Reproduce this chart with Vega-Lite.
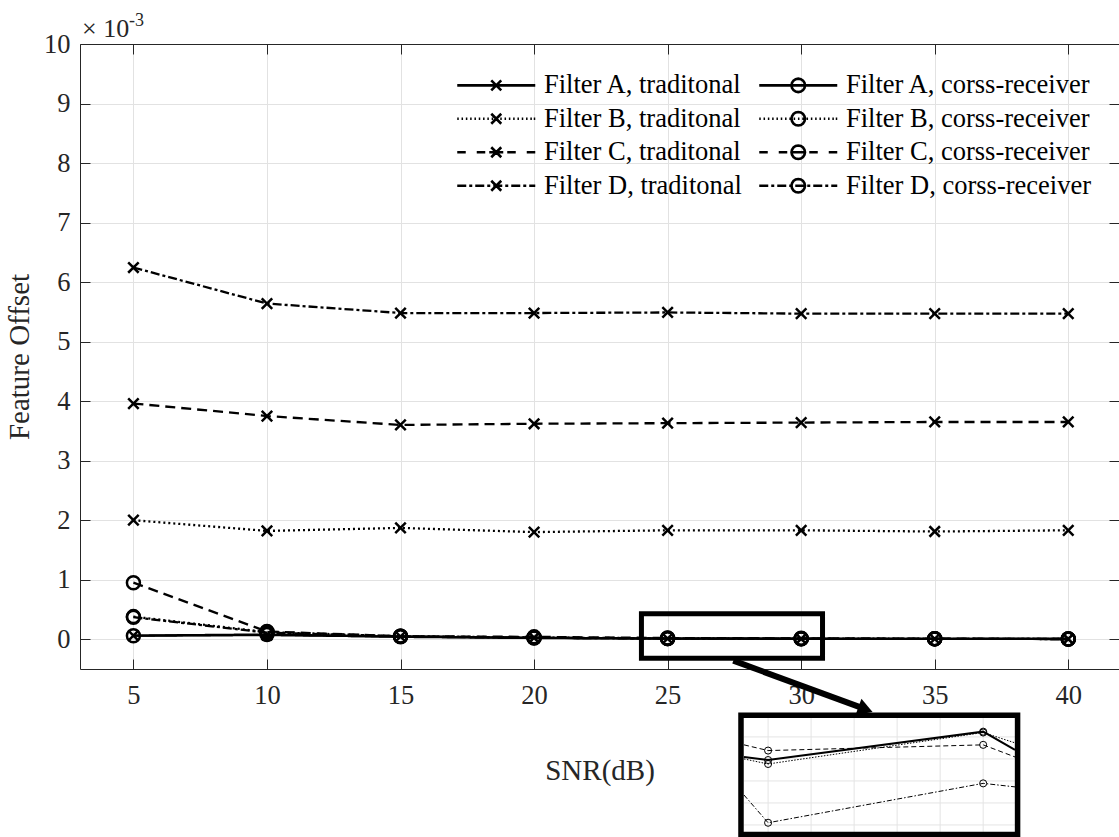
{
  "$schema": "https://vega.github.io/schema/vega-lite/v6.json",
  "width": 1039,
  "height": 625,
  "autosize": {"type": "none"},
  "padding": {"left": 80, "top": 44, "right": 0, "bottom": 168},
  "config": {
    "view": {"stroke": null},
    "font": "Liberation Serif",
    "axis": {
      "labelFont": "Liberation Serif",
      "titleFont": "Liberation Serif",
      "labelFontSize": 26.5,
      "titleFontSize": 29,
      "titleFontWeight": "normal",
      "labelColor": "#262626",
      "titleColor": "#262626",
      "domainColor": "#262626",
      "tickColor": "#262626",
      "gridColor": "#e2e2e2",
      "gridWidth": 1,
      "tickSize": -10,
      "tickWidth": 1
    }
  },
  "datasets": {
    "main": [
      {"series": "Filter A, traditonal", "marker": "x", "x": 5, "y": 0.06},
      {"series": "Filter A, traditonal", "marker": "x", "x": 10, "y": 0.07},
      {"series": "Filter A, traditonal", "marker": "x", "x": 15, "y": 0.045},
      {"series": "Filter A, traditonal", "marker": "x", "x": 20, "y": 0.025},
      {"series": "Filter A, traditonal", "marker": "x", "x": 25, "y": 0.012},
      {"series": "Filter A, traditonal", "marker": "x", "x": 30, "y": 0.008},
      {"series": "Filter A, traditonal", "marker": "x", "x": 35, "y": 0.006},
      {"series": "Filter A, traditonal", "marker": "x", "x": 40, "y": 0.004},
      {"series": "Filter B, traditonal", "marker": "x", "x": 5, "y": 2.0},
      {"series": "Filter B, traditonal", "marker": "x", "x": 10, "y": 1.82},
      {"series": "Filter B, traditonal", "marker": "x", "x": 15, "y": 1.87},
      {"series": "Filter B, traditonal", "marker": "x", "x": 20, "y": 1.8},
      {"series": "Filter B, traditonal", "marker": "x", "x": 25, "y": 1.83},
      {"series": "Filter B, traditonal", "marker": "x", "x": 30, "y": 1.83},
      {"series": "Filter B, traditonal", "marker": "x", "x": 35, "y": 1.81},
      {"series": "Filter B, traditonal", "marker": "x", "x": 40, "y": 1.83},
      {"series": "Filter C, traditonal", "marker": "x", "x": 5, "y": 3.96},
      {"series": "Filter C, traditonal", "marker": "x", "x": 10, "y": 3.75},
      {"series": "Filter C, traditonal", "marker": "x", "x": 15, "y": 3.6},
      {"series": "Filter C, traditonal", "marker": "x", "x": 20, "y": 3.62},
      {"series": "Filter C, traditonal", "marker": "x", "x": 25, "y": 3.63},
      {"series": "Filter C, traditonal", "marker": "x", "x": 30, "y": 3.64},
      {"series": "Filter C, traditonal", "marker": "x", "x": 35, "y": 3.65},
      {"series": "Filter C, traditonal", "marker": "x", "x": 40, "y": 3.65},
      {"series": "Filter D, traditonal", "marker": "x", "x": 5, "y": 6.245},
      {"series": "Filter D, traditonal", "marker": "x", "x": 10, "y": 5.64},
      {"series": "Filter D, traditonal", "marker": "x", "x": 15, "y": 5.48},
      {"series": "Filter D, traditonal", "marker": "x", "x": 20, "y": 5.48},
      {"series": "Filter D, traditonal", "marker": "x", "x": 25, "y": 5.49},
      {"series": "Filter D, traditonal", "marker": "x", "x": 30, "y": 5.47},
      {"series": "Filter D, traditonal", "marker": "x", "x": 35, "y": 5.47},
      {"series": "Filter D, traditonal", "marker": "x", "x": 40, "y": 5.47},
      {"series": "Filter A, corss-receiver", "marker": "o", "x": 5, "y": 0.06},
      {"series": "Filter A, corss-receiver", "marker": "o", "x": 10, "y": 0.08},
      {"series": "Filter A, corss-receiver", "marker": "o", "x": 15, "y": 0.04},
      {"series": "Filter A, corss-receiver", "marker": "o", "x": 20, "y": 0.02},
      {"series": "Filter A, corss-receiver", "marker": "o", "x": 25, "y": 0.01},
      {"series": "Filter A, corss-receiver", "marker": "o", "x": 30, "y": 0.008},
      {"series": "Filter A, corss-receiver", "marker": "o", "x": 35, "y": 0.007},
      {"series": "Filter A, corss-receiver", "marker": "o", "x": 40, "y": 0.004},
      {"series": "Filter B, corss-receiver", "marker": "o", "x": 5, "y": 0.38},
      {"series": "Filter B, corss-receiver", "marker": "o", "x": 10, "y": 0.12},
      {"series": "Filter B, corss-receiver", "marker": "o", "x": 15, "y": 0.05},
      {"series": "Filter B, corss-receiver", "marker": "o", "x": 20, "y": 0.03},
      {"series": "Filter B, corss-receiver", "marker": "o", "x": 25, "y": 0.015},
      {"series": "Filter B, corss-receiver", "marker": "o", "x": 30, "y": 0.01},
      {"series": "Filter B, corss-receiver", "marker": "o", "x": 35, "y": 0.008},
      {"series": "Filter B, corss-receiver", "marker": "o", "x": 40, "y": 0.005},
      {"series": "Filter C, corss-receiver", "marker": "o", "x": 5, "y": 0.95},
      {"series": "Filter C, corss-receiver", "marker": "o", "x": 10, "y": 0.13},
      {"series": "Filter C, corss-receiver", "marker": "o", "x": 15, "y": 0.05},
      {"series": "Filter C, corss-receiver", "marker": "o", "x": 20, "y": 0.04},
      {"series": "Filter C, corss-receiver", "marker": "o", "x": 25, "y": 0.02},
      {"series": "Filter C, corss-receiver", "marker": "o", "x": 30, "y": 0.015},
      {"series": "Filter C, corss-receiver", "marker": "o", "x": 35, "y": 0.01},
      {"series": "Filter C, corss-receiver", "marker": "o", "x": 40, "y": 0.006},
      {"series": "Filter D, corss-receiver", "marker": "o", "x": 5, "y": 0.37},
      {"series": "Filter D, corss-receiver", "marker": "o", "x": 10, "y": 0.11},
      {"series": "Filter D, corss-receiver", "marker": "o", "x": 15, "y": 0.05},
      {"series": "Filter D, corss-receiver", "marker": "o", "x": 20, "y": 0.025},
      {"series": "Filter D, corss-receiver", "marker": "o", "x": 25, "y": 0.012},
      {"series": "Filter D, corss-receiver", "marker": "o", "x": 30, "y": 0.008},
      {"series": "Filter D, corss-receiver", "marker": "o", "x": 35, "y": 0.006},
      {"series": "Filter D, corss-receiver", "marker": "o", "x": 40, "y": 0.004}
    ],
    "inset": [
      {"series": "Filter C, corss-receiver", "x": 24.44, "v": 3.64, "m": false},
      {"series": "Filter C, corss-receiver", "x": 25, "v": 3.38, "m": true},
      {"series": "Filter C, corss-receiver", "x": 30, "v": 3.64, "m": true},
      {"series": "Filter C, corss-receiver", "x": 30.74, "v": 3.09, "m": false},
      {"series": "Filter A, corss-receiver", "x": 24.44, "v": 3.09, "m": false},
      {"series": "Filter A, corss-receiver", "x": 25, "v": 2.95, "m": true},
      {"series": "Filter A, corss-receiver", "x": 30, "v": 4.24, "m": true},
      {"series": "Filter A, corss-receiver", "x": 30.74, "v": 3.41, "m": false},
      {"series": "Filter B, corss-receiver", "x": 24.44, "v": 3.0, "m": false},
      {"series": "Filter B, corss-receiver", "x": 25, "v": 2.77, "m": true},
      {"series": "Filter B, corss-receiver", "x": 30, "v": 4.2, "m": true},
      {"series": "Filter B, corss-receiver", "x": 30.74, "v": 3.73, "m": false},
      {"series": "Filter D, corss-receiver", "x": 24.44, "v": 1.36, "m": false},
      {"series": "Filter D, corss-receiver", "x": 25, "v": 0.1, "m": true},
      {"series": "Filter D, corss-receiver", "x": 30, "v": 1.89, "m": true},
      {"series": "Filter D, corss-receiver", "x": 30.74, "v": 1.73, "m": false}
    ],
    "insetgx": [{"g": 25}, {"g": 26}, {"g": 27}, {"g": 28}, {"g": 29}, {"g": 30}],
    "insetgy": [{"g": 0}, {"g": 1}, {"g": 2}, {"g": 3}, {"g": 4}],
    "one": [{"note": "annotation"}]
  },
  "layer": [
    {
      "layer": [
        {
          "data": {"name": "main"},
          "mark": {"type": "line", "stroke": "black", "strokeWidth": 2.3},
          "encoding": {
            "x": {
              "field": "x", "type": "quantitative",
              "scale": {"domain": [3, 41.9], "nice": false, "zero": false},
              "axis": {"orient": "bottom", "values": [5, 10, 15, 20, 25, 30, 35, 40], "title": "SNR(dB)", "grid": true, "labelPadding": 23, "titlePadding": 48}
            },
            "y": {
              "field": "y", "type": "quantitative",
              "scale": {"domain": [-0.5, 10], "nice": false, "zero": false},
              "axis": {"orient": "left", "values": [0, 1, 2, 3, 4, 5, 6, 7, 8, 9, 10], "title": "Feature Offset", "grid": true, "labelPadding": 20, "titlePadding": 9}
            },
            "strokeDash": {
              "field": "series", "type": "nominal",
              "scale": {
                "domain": ["Filter A, corss-receiver", "Filter B, corss-receiver", "Filter C, corss-receiver", "Filter D, corss-receiver", "Filter A, traditonal", "Filter B, traditonal", "Filter C, traditonal", "Filter D, traditonal"],
                "range": [[1, 0], [2, 3], [10, 6], [9, 3, 3, 3], [1, 0], [2, 3], [10, 6], [9, 3, 3, 3]]
              },
              "legend": null
            }
          }
        },
        {
          "data": {"name": "main"},
          "transform": [{"filter": "datum.marker === 'x'"}],
          "mark": {"type": "point", "shape": "M-1,-1L1,1M-1,1L1,-1", "size": 110, "filled": false, "stroke": "black", "strokeWidth": 2.5, "opacity": 1},
          "encoding": {
            "x": {"field": "x", "type": "quantitative", "axis": {"orient": "top", "values": [5, 10, 15, 20, 25, 30, 35, 40], "labels": false, "title": null, "grid": false, "domain": true}},
            "y": {"field": "y", "type": "quantitative", "axis": {"orient": "right", "values": [0, 1, 2, 3, 4, 5, 6, 7, 8, 9, 10], "labels": false, "title": null, "grid": false, "domain": false}}
          }
        },
        {
          "data": {"name": "main"},
          "transform": [{"filter": "datum.marker === 'o'"}],
          "mark": {"type": "point", "shape": "circle", "size": 169, "filled": false, "stroke": "black", "strokeWidth": 2.5, "opacity": 1},
          "encoding": {
            "x": {"field": "x", "type": "quantitative", "axis": null},
            "y": {"field": "y", "type": "quantitative", "axis": null}
          }
        },
        {
          "data": {"name": "main"},
          "transform": [{"filter": "false"}],
          "mark": {"type": "point", "filled": false, "stroke": "black", "strokeWidth": 2.6},
          "encoding": {
            "x": {"field": "x", "type": "quantitative", "axis": null},
            "y": {"field": "y", "type": "quantitative", "axis": null},
            "shape": {
              "field": "series", "type": "nominal",
              "scale": {
                "domain": ["Filter A, traditonal", "Filter B, traditonal", "Filter C, traditonal", "Filter D, traditonal", "Filter A, corss-receiver", "Filter B, corss-receiver", "Filter C, corss-receiver", "Filter D, corss-receiver"],
                "range": [
                  "M-1,0L14.6,0M5.8,-1L7.8,1M5.8,1L7.8,-1",
                  "M-1,0L-0.7,0M-0.14,0L0.16,0M0.72,0L1.02,0M1.58,0L1.88,0M2.44,0L2.74,0M3.3,0L3.6,0M4.16,0L4.46,0M5.02,0L5.32,0M5.88,0L6.18,0M6.74,0L7.04,0M7.6,0L7.9,0M8.46,0L8.76,0M9.32,0L9.62,0M10.18,0L10.48,0M11.04,0L11.34,0M11.9,0L12.2,0M12.76,0L13.06,0M13.62,0L13.92,0M14.3,0L14.6,0M5.8,-1L7.8,1M5.8,1L7.8,-1",
                  "M-1,0L0.7,0M2.9,0L4.6,0M5.4,0L8.2,0M9,0L10.7,0M12.9,0L14.6,0M5.8,-1L7.8,1M5.8,1L7.8,-1",
                  "M-1,0L0.8,0M1.4,0L2,0M2.6,0L4.4,0M5,0L5.6,0M6.2,0L8,0M8.6,0L9.2,0M9.8,0L11.6,0M12.2,0L12.8,0M13.4,0L14.6,0M5.8,-1L7.8,1M5.8,1L7.8,-1",
                  "M-1,0L14.6,0M8.15,0L8.047,0.517L7.755,0.955L7.317,1.247L6.8,1.35L6.283,1.247L5.845,0.955L5.553,0.517L5.45,0L5.553,-0.517L5.845,-0.955L6.283,-1.247L6.8,-1.35L7.317,-1.247L7.755,-0.955L8.047,-0.517Z",
                  "M-1,0L-0.7,0M-0.14,0L0.16,0M0.72,0L1.02,0M1.58,0L1.88,0M2.44,0L2.74,0M3.3,0L3.6,0M4.16,0L4.46,0M5.02,0L5.32,0M5.88,0L6.18,0M6.74,0L7.04,0M7.6,0L7.9,0M8.46,0L8.76,0M9.32,0L9.62,0M10.18,0L10.48,0M11.04,0L11.34,0M11.9,0L12.2,0M12.76,0L13.06,0M13.62,0L13.92,0M14.3,0L14.6,0M8.15,0L8.047,0.517L7.755,0.955L7.317,1.247L6.8,1.35L6.283,1.247L5.845,0.955L5.553,0.517L5.45,0L5.553,-0.517L5.845,-0.955L6.283,-1.247L6.8,-1.35L7.317,-1.247L7.755,-0.955L8.047,-0.517Z",
                  "M-1,0L0.7,0M2.9,0L4.6,0M5.4,0L8.2,0M9,0L10.7,0M12.9,0L14.6,0M8.15,0L8.047,0.517L7.755,0.955L7.317,1.247L6.8,1.35L6.283,1.247L5.845,0.955L5.553,0.517L5.45,0L5.553,-0.517L5.845,-0.955L6.283,-1.247L6.8,-1.35L7.317,-1.247L7.755,-0.955L8.047,-0.517Z",
                  "M-1,0L0.8,0M1.4,0L2,0M2.6,0L4.4,0M5,0L5.6,0M6.2,0L8,0M8.6,0L9.2,0M9.8,0L11.6,0M12.2,0L12.8,0M13.4,0L14.6,0M8.15,0L8.047,0.517L7.755,0.955L7.317,1.247L6.8,1.35L6.283,1.247L5.845,0.955L5.553,0.517L5.45,0L5.553,-0.517L5.845,-0.955L6.283,-1.247L6.8,-1.35L7.317,-1.247L7.755,-0.955L8.047,-0.517Z"
                ]
              },
              "legend": {
                "orient": "none", "legendX": 369, "legendY": 28, "columns": 2, "title": null,
                "padding": 0, "symbolSize": 100, "labelOffset": 68.5, "labelLimit": 500,
                "labelFont": "Liberation Serif", "labelFontSize": 26.5, "labelColor": "black",
                "rowPadding": 6.5, "columnPadding": 9,
                "symbolOpacity": 1, "symbolStrokeColor": "black", "symbolFillColor": "transparent", "symbolStrokeWidth": 2.6
              }
            }
          }
        },
        {
          "data": {"name": "one"},
          "mark": {"type": "rect", "fill": "white", "fillOpacity": 0, "stroke": "black", "strokeWidth": 5},
          "encoding": {
            "x": {"datum": 24.02, "type": "quantitative", "axis": null},
            "x2": {"datum": 30.8},
            "y": {"datum": 0.43, "type": "quantitative", "axis": null},
            "y2": {"datum": -0.32}
          }
        },
        {
          "data": {"name": "one"},
          "mark": {"type": "rule", "stroke": "black", "strokeWidth": 6},
          "encoding": {
            "x": {"datum": 27.46, "type": "quantitative", "axis": null},
            "x2": {"datum": 32.2},
            "y": {"datum": -0.36, "type": "quantitative", "axis": null},
            "y2": {"datum": -1.14}
          }
        },
        {
          "data": {"name": "one"},
          "mark": {"type": "point", "shape": "triangle-right", "filled": true, "fill": "black", "stroke": null, "size": 300, "angle": 20, "opacity": 1},
          "encoding": {
            "x": {"datum": 32.41, "type": "quantitative", "axis": null},
            "y": {"datum": -1.178, "type": "quantitative", "axis": null}
          }
        },
        {
          "data": {"name": "one"},
          "mark": {"type": "text", "text": "× 10", "align": "left", "baseline": "alphabetic", "dx": 2, "dy": -7, "fontSize": 26, "font": "Liberation Serif", "color": "#262626"},
          "encoding": {
            "x": {"datum": 3, "type": "quantitative", "axis": null},
            "y": {"datum": 10, "type": "quantitative", "axis": null}
          }
        },
        {
          "data": {"name": "one"},
          "mark": {"type": "text", "text": "-3", "align": "left", "baseline": "alphabetic", "dx": 49, "dy": -18, "fontSize": 18, "font": "Liberation Serif", "color": "#262626"},
          "encoding": {
            "x": {"datum": 3, "type": "quantitative", "axis": null},
            "y": {"datum": 10, "type": "quantitative", "axis": null}
          }
        }
      ],
      "resolve": {"axis": {"x": "independent", "y": "independent"}}
    },
    {
      "layer": [
        {
          "data": {"name": "one"},
          "mark": {"type": "rect", "fill": "white", "stroke": null},
          "encoding": {
            "x": {"datum": 24.37, "type": "quantitative", "scale": {"domain": [24.44, 30.74], "range": [664, 935], "nice": false, "zero": false}, "axis": null},
            "x2": {"datum": 30.8},
            "y": {"datum": -0.43, "type": "quantitative", "scale": {"domain": [-0.32, 4.86], "range": [788, 674], "nice": false, "zero": false}, "axis": null},
            "y2": {"datum": 4.98}
          }
        },
        {
          "data": {"name": "insetgx"},
          "mark": {"type": "rule", "stroke": "#e4e4e4", "strokeWidth": 1},
          "encoding": {
            "x": {"field": "g", "type": "quantitative", "axis": null},
            "y": {"datum": -0.32, "type": "quantitative", "axis": null},
            "y2": {"datum": 4.86}
          }
        },
        {
          "data": {"name": "insetgy"},
          "mark": {"type": "rule", "stroke": "#e4e4e4", "strokeWidth": 1},
          "encoding": {
            "y": {"field": "g", "type": "quantitative", "axis": null},
            "x": {"datum": 24.44, "type": "quantitative", "axis": null},
            "x2": {"datum": 30.74}
          }
        },
        {
          "data": {"name": "inset"},
          "transform": [{"filter": "datum.series !== 'Filter A, corss-receiver'"}],
          "mark": {"type": "line", "stroke": "black", "strokeWidth": 1},
          "encoding": {
            "x": {"field": "x", "type": "quantitative", "axis": null},
            "y": {"field": "v", "type": "quantitative", "axis": null},
            "strokeDash": {
              "field": "series", "type": "nominal", "legend": null,
              "scale": {"domain": ["Filter B, corss-receiver", "Filter C, corss-receiver", "Filter D, corss-receiver"], "range": [[1.5, 1.5], [5, 3], [5, 2, 1.5, 2]]}
            }
          }
        },
        {
          "data": {"name": "inset"},
          "transform": [{"filter": "datum.series === 'Filter A, corss-receiver'"}],
          "mark": {"type": "line", "stroke": "black", "strokeWidth": 2},
          "encoding": {
            "x": {"field": "x", "type": "quantitative", "axis": null},
            "y": {"field": "v", "type": "quantitative", "axis": null}
          }
        },
        {
          "data": {"name": "inset"},
          "transform": [{"filter": "datum.m"}],
          "mark": {"type": "point", "shape": "circle", "filled": false, "stroke": "black", "strokeWidth": 1, "size": 50, "opacity": 1},
          "encoding": {
            "x": {"field": "x", "type": "quantitative", "axis": null},
            "y": {"field": "v", "type": "quantitative", "axis": null}
          }
        },
        {
          "data": {"name": "one"},
          "mark": {"type": "rect", "fillOpacity": 0, "fill": "white", "stroke": "black", "strokeWidth": 5.5},
          "encoding": {
            "x": {"datum": 24.37, "type": "quantitative", "axis": null},
            "x2": {"datum": 30.8},
            "y": {"datum": -0.43, "type": "quantitative", "axis": null},
            "y2": {"datum": 4.98}
          }
        }
      ]
    }
  ],
  "resolve": {"scale": {"x": "independent", "y": "independent", "strokeDash": "independent", "shape": "independent"}}
}
